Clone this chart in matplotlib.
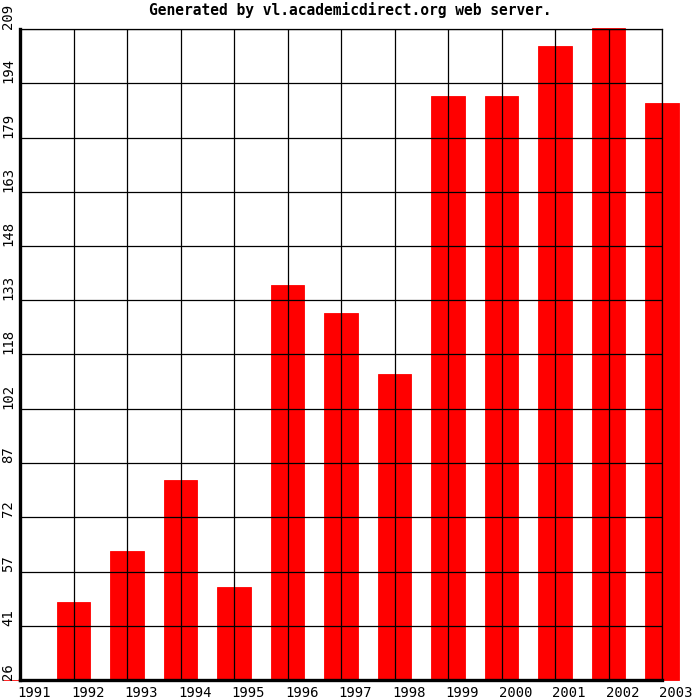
import matplotlib
matplotlib.use("Agg")
import matplotlib.pyplot as plt
import matplotlib.transforms as mtransforms

# データ
years = [1991, 1992, 1993, 1994, 1995, 1996, 1997, 1998, 1999, 2000, 2001, 2002, 2003]
values = [26, 48, 62.3, 82.2, 52.1, 137, 129.2, 112, 190.2, 190.2, 204.2, 209.3, 188.2]
y_min, y_max = 26, 209
y_ticks = [26 + i * (y_max - y_min) / 12 for i in range(13)]
y_labels = ["26", "41", "57", "72", "87", "102", "118", "133", "148", "163", "179", "194", "209"]

plt.rcParams["font.family"] = ["DejaVu Sans Mono"]

fig = plt.figure(figsize=(7, 7), dpi=100)
ax = fig.add_axes([20 / 700, 20 / 700, 642 / 700, 651 / 700])

ax.bar(years, [v - y_min for v in values], bottom=y_min, width=0.62,
       color="#ff0000", edgecolor="#ff0000", linewidth=0.6, clip_on=False, zorder=1)

ax.set_xlim(1991, 2003)
ax.set_ylim(y_min, y_max)
ax.set_xticks(years)
ax.set_yticks(y_ticks)
ax.set_xticklabels([])
ax.set_yticklabels([])
ax.tick_params(length=0)
ax.grid(True, color="black", linewidth=0.9)

for side in ["top", "right"]:
    ax.spines[side].set_linewidth(0.9)
for side in ["left", "bottom"]:
    ax.spines[side].set_linewidth(2.4)

# 目盛りラベル
tx = mtransforms.blended_transform_factory(ax.transData, fig.transFigure)
for yr in years:
    ax.text(yr - 0.05, 1 - 686 / 700, str(yr), transform=tx, ha="left", va="top",
            fontsize=10, clip_on=False)

ty = mtransforms.blended_transform_factory(fig.transFigure, ax.transData)
for yv, lab in zip(y_ticks, y_labels):
    ax.text(8 / 700, yv, lab, transform=ty, rotation=90, ha="center", va="bottom",
            fontsize=10, clip_on=False)

fig.text(0.5, 1 - 10 / 700, "Generated by vl.academicdirect.org web server.",
         ha="center", va="center", fontsize=10.5, fontweight="bold")

fig.savefig("out.png", dpi=100)
